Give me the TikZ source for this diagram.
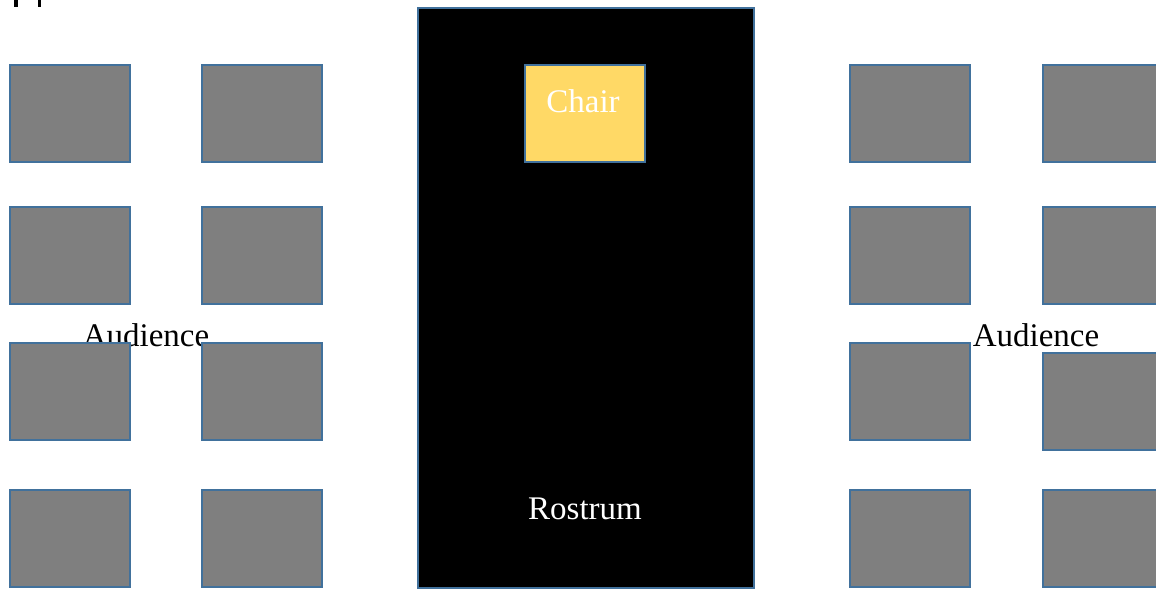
\documentclass[tikz,border=0pt]{standalone}
\usepackage{fontspec}
\setmainfont{Liberation Serif}
\definecolor{edge}{HTML}{41719C}
\definecolor{seatgray}{HTML}{7F7F7F}
\definecolor{chairyellow}{HTML}{FFD966}
\tikzset{
  seat/.style={draw=edge, fill=seatgray, line width=2.2pt, minimum width=120pt, minimum height=97pt, anchor=north west, inner sep=0pt},
  stage/.style={draw=edge, fill=black, line width=2.2pt, minimum width=336pt, minimum height=580pt, anchor=north west, inner sep=0pt},
  chairbox/.style={draw=edge, fill=chairyellow, line width=2.2pt, minimum width=120pt, minimum height=97pt, anchor=north west, inner sep=0pt},
  lbl/.style={font=\fontsize{33}{36}\selectfont, inner sep=0pt, anchor=base},
}
\begin{document}
\begin{tikzpicture}[x=1pt,y=-1pt]
\useasboundingbox (0,0) rectangle (1156,590);
\clip (0,0) rectangle (1156,590);
% clipped marks at top left
\fill[black] (14,0) rectangle (17.5,6.5);
\fill[black] (37.5,0) rectangle (41,6.5);
% audience labels (drawn under the seats)
\node[lbl] (audL) at (146,346) {Audience};
\node[lbl] (audR) at (1036,346) {Audience};
% rostrum
\node[stage] (rostrum) at (416.5,6.5) {};
\node[chairbox] (chair) at (523.5,63.5) {};
\node[lbl, text=white] (chairlbl) at (583,112) {Chair};
\node[lbl, text=white] (rostlbl) at (585,519) {Rostrum};
% left seats
\node[seat] (l11) at (8.5,63.5) {};
\node[seat] (l12) at (200.5,63.5) {};
\node[seat] (l21) at (8.5,205.5) {};
\node[seat] (l22) at (200.5,205.5) {};
\node[seat] (l31) at (8.5,341.5) {};
\node[seat] (l32) at (200.5,341.5) {};
\node[seat] (l41) at (8.5,488.5) {};
\node[seat] (l42) at (200.5,488.5) {};
% right seats
\node[seat] (r11) at (848.5,63.5) {};
\node[seat] (r12) at (1041.5,63.5) {};
\node[seat] (r21) at (848.5,205.5) {};
\node[seat] (r22) at (1041.5,205.5) {};
\node[seat] (r31) at (848.5,341.5) {};
\node[seat] (r32) at (1041.5,351.5) {};
\node[seat] (r41) at (848.5,488.5) {};
\node[seat] (r42) at (1041.5,488.5) {};
\end{tikzpicture}
\end{document}
